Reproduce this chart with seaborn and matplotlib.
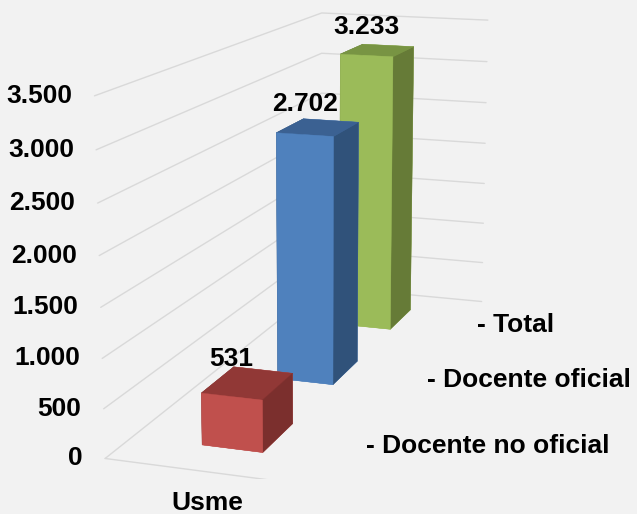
import numpy as np
import matplotlib
matplotlib.use('Agg')
from matplotlib import pyplot as plt
from matplotlib.transforms import offset_copy
from mpl_toolkits.mplot3d import proj3d
import seaborn as sns

categories = ['Usme']
series = ['Docente no oficial', 'Docente oficial', 'Total']
values = [531, 2702, 3233]
value_labels = ['531', '2.702', '3.233']
ticks = [0, 500, 1000, 1500, 2000, 2500, 3000, 3500]
tick_labels = ['0', '500', '1.000', '1.500', '2.000', '2.500', '3.000', '3.500']

front_colors = ['#C0504D', '#4F81BD', '#9BBB59']
top_colors = ['#913836', '#3B6192', '#789443']
side_colors = ['#7B2F2D', '#30527A', '#667B37']

sns.set_theme(style='white', rc={'figure.facecolor': '#F2F2F2', 'axes.facecolor': '#F2F2F2',
                                 'text.color': 'black'})
plt.rcParams['font.family'] = ['Liberation Sans', 'DejaVu Sans']
fs = 19

fig = plt.figure(figsize=(6.37, 5.14), dpi=100)
ax = fig.add_axes([-0.0116, 0.069, 1, 1], projection='3d', computed_zorder=False)
ax.set_axis_off()
ax.patch.set_alpha(0)

ax.set_xlim(-0.5, 0.5)
ax.set_ylim(-0.5, len(series) - 0.5)
ax.set_zlim(0, 3500)
ax.set_box_aspect((0.6, 1.82, 1), zoom=1.33)
ax.view_init(elev=13.5, azim=-71)
ax.set_proj_type('persp', focal_length=0.65)

grid_c = '#D9D9D9'
ymax = len(series) - 0.5
for t in ticks:
    ax.plot([-0.5, -0.5, 0.5], [-0.5, ymax, ymax], [t, t, t], color=grid_c, lw=1, zorder=1)
ax.plot([-0.5, 0.5], [-0.5, -0.5], [0, 0], color=grid_c, lw=1, zorder=1)

# bars, one per series in depth
dx, dy = 0.3, 0.4
n = len(series)
xs = np.zeros(n) - dx / 2
ys = np.arange(n) - dy / 2
faces = []
for i in range(n):
    # -z, +z, -y, +y, -x, +x
    faces += [front_colors[i], top_colors[i], front_colors[i], front_colors[i], side_colors[i], side_colors[i]]
ax.bar3d(xs, ys, np.zeros(n), dx, dy, values, color=faces, edgecolor=faces,
         linewidth=0.3, shade=False, zorder=2)

# texts: project 3d anchor points to the 2d axes coords
M = ax.get_proj()


def label(x, y, z, s, ox, oy, **kw):
    px, py, _ = proj3d.proj_transform(x, y, z, M)
    ax.text2D(px, py, s, fontsize=fs, fontweight='bold', zorder=3,
              transform=offset_copy(ax.transData, fig=fig, x=ox, y=oy, units='points'), **kw)


for t, lab in zip(ticks, tick_labels):
    label(-0.5, -0.5, t, lab, -16, 0, ha='right', va='center')

for i, (v, lab) in enumerate(zip(values, value_labels)):
    # x from the front face centre, height from the top face centre
    fx, _, _ = proj3d.proj_transform(0, i - dy / 2, v, M)
    _, cy, _ = proj3d.proj_transform(0, i, v, M)
    ax.text2D(fx, cy, lab, fontsize=fs, fontweight='bold', zorder=3, ha='center', va='center',
              transform=offset_copy(ax.transData, fig=fig, x=0, y=17, units='points'))

for i, s in enumerate(series):
    label(0.5, i, 0, '- ' + s, 12, 0, ha='left', va='center')

label(0, -0.5, 0, categories[0], 0, -14, ha='center', va='top')

fig.savefig('out.png', dpi=100, facecolor=fig.get_facecolor())
